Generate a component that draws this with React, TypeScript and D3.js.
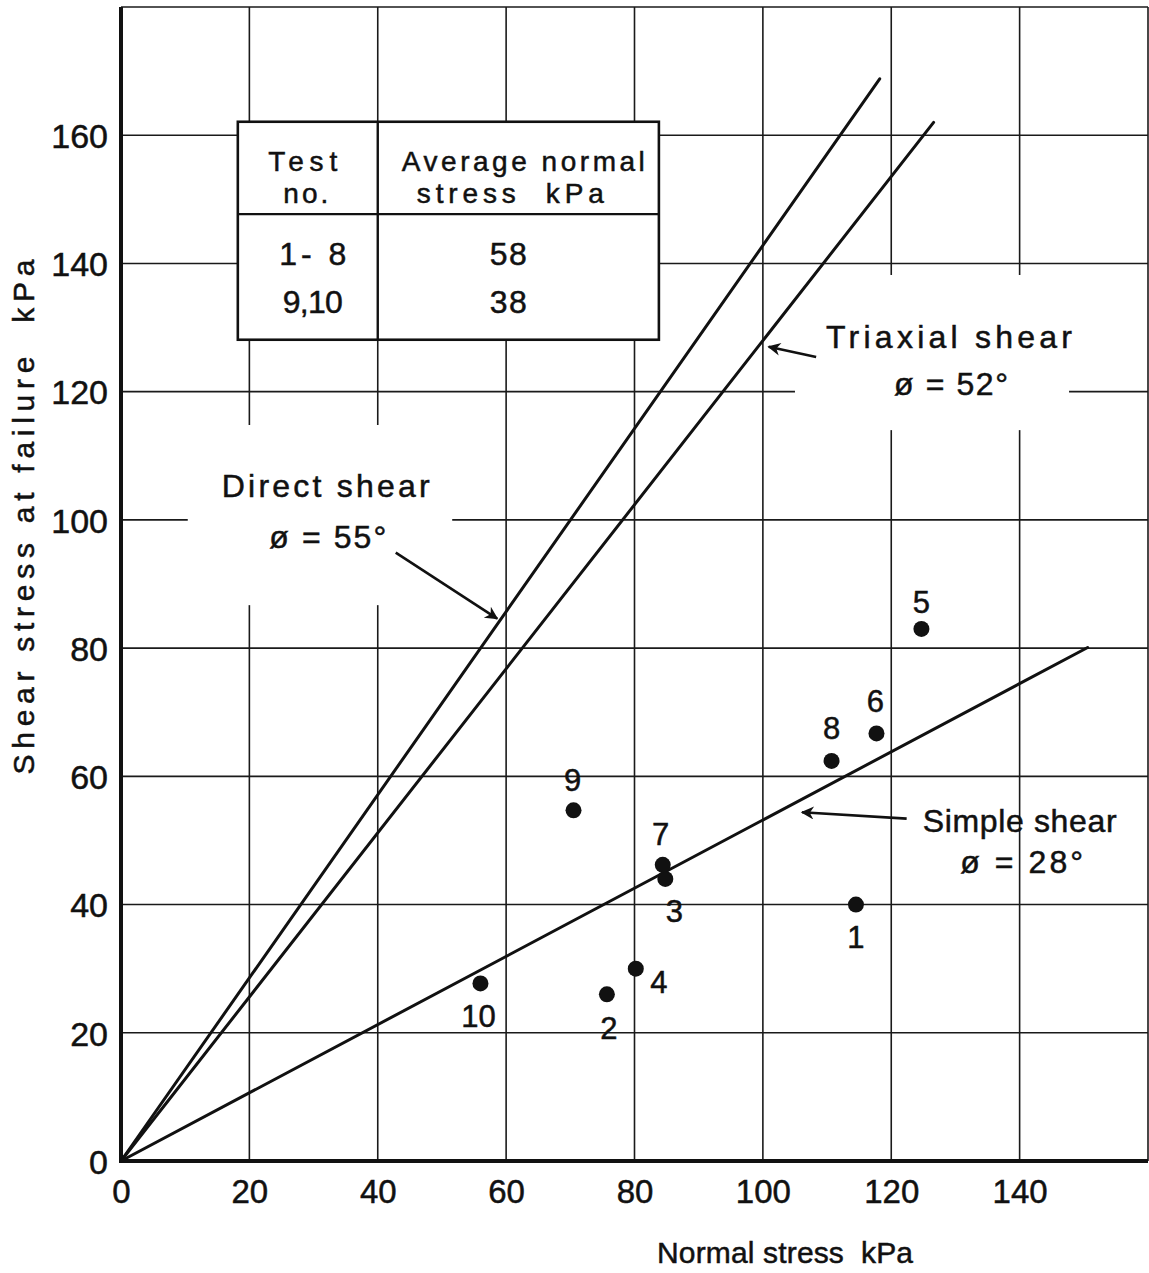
import React, { useEffect, useRef } from 'react';
import * as d3 from 'd3';

// axis ticks
const xTicks = [0, 20, 40, 60, 80, 100, 120, 140];
const yTicks = [0, 20, 40, 60, 80, 100, 120, 140, 160];
const xGrid = [20, 40, 60, 80, 100, 120, 140, 160];
const yGrid = [20, 40, 60, 80, 100, 120, 140, 160, 180];

// test results (kPa)
const testNo = ['1', '2', '3', '4', '5', '6', '7', '8', '9', '10'];
const normalStress = [114.5, 75.7, 84.8, 80.2, 124.7, 117.7, 84.4, 110.7, 70.5, 56];
const shearStress = [40, 26, 44, 30, 83, 66.7, 46.2, 62.4, 54.7, 27.7];

// failure envelopes, from the origin to the drawn end point
const envelopeNames = ['Direct shear', 'Triaxial shear', 'Simple shear'];
const envelopeAngles = ['55', '52', '28'];
const envelopeEndX = [118.2, 126.6, 150.6];
const envelopeEndY = [168.8, 162.0, 80.1];

// table inset
const tableHeader = [['Test', 'no.'], ['Average normal', 'stress\u00a0\u00a0kPa']];
const tableTests = ['1- 8', '9,10'];
const tableStress = ['58', '38'];

// label offsets for the point numbers (layout only)
const labelDx = [0, 2, 9, 23, 0, -1, -2, 0, -1, -2];
const labelDy = [43, 45, 43, 24, -16, -21, -20, -22, -19, 44];

const FONT = '"Liberation Sans", Arial, sans-serif';
const INK = '#111';

const App = () => {
  const ref = useRef<SVGSVGElement>(null);

  useEffect(() => {
    const svg = d3.select(ref.current);
    svg.selectAll('*').remove();

    const width = 1149;
    const height = 1273;

    const x = d3.scaleLinear().domain([0, 160]).range([121, 1148]);
    const y = d3.scaleLinear().domain([0, 180]).range([1161, 7]);

    svg.append('rect').attr('width', width).attr('height', height).attr('fill', '#fff');

    const defs = svg.append('defs');
    defs.append('marker')
      .attr('id', 'arrowhead')
      .attr('viewBox', '0 0 10 10')
      .attr('refX', 9)
      .attr('refY', 5)
      .attr('markerWidth', 7)
      .attr('markerHeight', 5)
      .attr('markerUnits', 'strokeWidth')
      .attr('orient', 'auto')
      .append('path')
      .attr('d', 'M0,0 L10,5 L0,10 L3,5 Z')
      .attr('fill', INK);

    // grid
    const grid = svg.append('g').attr('stroke', '#1a1a1a').attr('stroke-width', 1.6);
    grid.selectAll('line.gx')
      .data(xGrid)
      .enter().append('line')
      .attr('x1', d => x(d)).attr('x2', d => x(d))
      .attr('y1', y(0)).attr('y2', y(180));
    grid.selectAll('line.gy')
      .data(yGrid)
      .enter().append('line')
      .attr('x1', x(0)).attr('x2', x(160))
      .attr('y1', d => y(d)).attr('y2', d => y(d));

    // white gaps behind the annotations
    const gaps = [
      [10.4, 114.8, 51.6, 86.7],
      [105, 138.2, 147.7, 114.0],
    ];
    svg.append('g').selectAll('rect')
      .data(gaps)
      .enter().append('rect')
      .attr('x', d => x(d[0]))
      .attr('y', d => y(d[1]))
      .attr('width', d => x(d[2]) - x(d[0]))
      .attr('height', d => y(d[3]) - y(d[1]))
      .attr('fill', '#fff');

    // axes
    svg.append('line')
      .attr('x1', x(0)).attr('x2', x(0)).attr('y1', y(0) + 2).attr('y2', y(180))
      .attr('stroke', INK).attr('stroke-width', 4);
    svg.append('line')
      .attr('x1', x(0) - 2).attr('x2', x(160)).attr('y1', y(0)).attr('y2', y(0))
      .attr('stroke', INK).attr('stroke-width', 4);

    const ink = (sel: any, size: number) => sel
      .attr('font-family', FONT).attr('font-size', size)
      .attr('fill', INK).attr('stroke', INK).attr('stroke-width', 0.5);

    const xAxis = svg.append('g')
      .attr('transform', `translate(0,${y(0)})`)
      .call(d3.axisBottom(x).tickValues(xTicks).tickSize(0).tickFormat(d3.format('d')));
    xAxis.select('.domain').remove();
    ink(xAxis.selectAll('text').attr('y', 42).attr('dy', 0), 33);

    const yAxis = svg.append('g')
      .attr('transform', `translate(${x(0)},0)`)
      .call(d3.axisLeft(y).tickValues(yTicks).tickSize(0).tickFormat(d3.format('d')));
    yAxis.select('.domain').remove();
    ink(yAxis.selectAll('text').attr('x', -13).attr('dy', '0.36em'), 34);

    // axis titles
    ink(svg.append('text')
      .attr('x', 785).attr('y', 1263)
      .attr('text-anchor', 'middle')
      .attr('textLength', 256).attr('lengthAdjust', 'spacing')
      .text('Normal stress\u00a0\u00a0kPa'), 30);
    ink(svg.append('text')
      .attr('transform', 'translate(34,517) rotate(-90)')
      .attr('text-anchor', 'middle')
      .attr('textLength', 515).attr('lengthAdjust', 'spacing')
      .text('Shear stress at failure\u00a0\u00a0kPa'), 30);

    // envelopes
    svg.append('g').selectAll('line')
      .data(envelopeNames.map((n, i) => ({ n, x2: envelopeEndX[i], y2: envelopeEndY[i] })))
      .enter().append('line')
      .attr('x1', x(0)).attr('y1', y(0))
      .attr('x2', d => x(d.x2)).attr('y2', d => y(d.y2))
      .attr('stroke', INK).attr('stroke-width', 3).attr('stroke-linecap', 'round');

    // envelope annotations
    const notes = [
      { cx: 31.9, nameY: 103.6, phiY: 95.6, nameLen: 208, phiLen: 117, from: [42.8, 94.9], to: [58.6, 84.6] },
      { cx: 129.0, nameY: 126.8, phiY: 119.5, nameLen: 246, phiLen: 114, from: [108.3, 125.4], to: [100.9, 127.0] },
      { cx: 140.0, nameY: 51.3, phiY: 44.9, nameLen: 194, phiLen: 123, from: [122.4, 53.4], to: [106.1, 54.4] },
    ];
    notes.forEach((nt, i) => {
      ink(svg.append('text')
        .attr('x', x(nt.cx)).attr('y', y(nt.nameY))
        .attr('text-anchor', 'middle')
        .attr('textLength', nt.nameLen).attr('lengthAdjust', 'spacing')
        .text(envelopeNames[i]), 32);
      ink(svg.append('text')
        .attr('x', x(nt.cx) + 2).attr('y', y(nt.phiY))
        .attr('text-anchor', 'middle')
        .attr('textLength', nt.phiLen).attr('lengthAdjust', 'spacing')
        .text(`ø = ${envelopeAngles[i]}°`), 32);
      svg.append('line')
        .attr('x1', x(nt.from[0])).attr('y1', y(nt.from[1]))
        .attr('x2', x(nt.to[0])).attr('y2', y(nt.to[1]))
        .attr('stroke', INK).attr('stroke-width', 2.6)
        .attr('marker-end', 'url(#arrowhead)');
    });

    // test points
    const points = testNo.map((t, i) => ({ t, nx: normalStress[i], ny: shearStress[i], i }));
    svg.append('g').selectAll('circle')
      .data(points)
      .enter().append('circle')
      .attr('cx', d => x(d.nx)).attr('cy', d => y(d.ny))
      .attr('r', 8).attr('fill', INK);
    ink(svg.append('g').selectAll('text')
      .data(points)
      .enter().append('text')
      .attr('x', d => x(d.nx) + labelDx[d.i])
      .attr('y', d => y(d.ny) + labelDy[d.i])
      .attr('text-anchor', 'middle')
      .text(d => d.t), 31);

    // table inset
    const tx0 = x(18.2), tx1 = x(83.8), tcol = x(40);
    const ty0 = y(162.1), ty1 = y(128.1), trow = y(147.7);
    const table = svg.append('g');
    table.append('rect')
      .attr('x', tx0).attr('y', ty0)
      .attr('width', tx1 - tx0).attr('height', ty1 - ty0)
      .attr('fill', '#fff').attr('stroke', INK).attr('stroke-width', 2.6);
    table.append('line')
      .attr('x1', tcol).attr('x2', tcol).attr('y1', ty0).attr('y2', ty1)
      .attr('stroke', INK).attr('stroke-width', 2.4);
    table.append('line')
      .attr('x1', tx0).attr('x2', tx1).attr('y1', trow).attr('y2', trow)
      .attr('stroke', INK).attr('stroke-width', 2.4);

    const cellText = (cx: number, cy: number, s: string, len: number, size: number) => {
      ink(table.append('text')
        .attr('x', cx).attr('y', cy)
        .attr('text-anchor', 'middle')
        .attr('textLength', len).attr('lengthAdjust', 'spacing')
        .text(s), size);
    };
    const c1 = (tx0 + tcol) / 2;
    const c2 = (tcol + tx1) / 2;
    cellText(c1 - 5, ty0 + 49, tableHeader[0][0], 69, 28);
    cellText(c1 - 2, ty0 + 81, tableHeader[0][1], 45, 28);
    cellText(c2 + 5, ty0 + 49, tableHeader[1][0], 243, 28);
    cellText(c2 - 8, ty0 + 81, tableHeader[1][1], 187, 28);
    tableTests.forEach((s, i) => cellText(c1 + 5, ty0 + 143 + i * 48, s, i === 0 ? 67 : 60, 32));
    tableStress.forEach((s, i) => cellText(c2 - 10, ty0 + 143 + i * 48, s, 37, 32));
  }, []);

  return (
    <svg
      ref={ref}
      width={1149}
      height={1273}
      style={{ position: 'absolute', left: 0, top: 0, display: 'block' }}
    />
  );
};

export default App;
